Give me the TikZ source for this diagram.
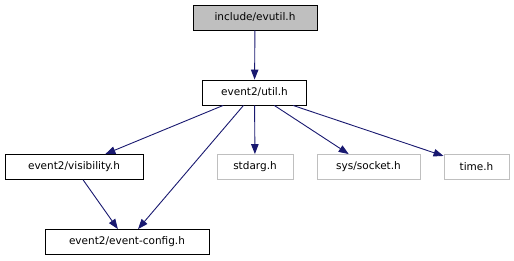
\documentclass[tikz,border=0pt]{standalone}
\usepackage{fontspec}
\setmainfont{DejaVu Sans}
\usetikzlibrary{arrows.meta}
\definecolor{edgeblue}{HTML}{191970}
\definecolor{missgray}{HTML}{BFBFBF}
\tikzset{
  filebox/.style={draw=black, line width=0.9pt, inner sep=0pt, minimum height=25pt, font=\fontsize{10.5}{12}\selectfont, text=black},
  curbox/.style={filebox, fill=missgray},
  missbox/.style={filebox, draw=missgray},
  incl/.style={draw=edgeblue, line width=0.9pt, -{Triangle[length=10pt,width=7.5pt]}, color=edgeblue},
}
\begin{document}
\begin{tikzpicture}[x=1pt,y=-1pt]
\useasboundingbox (0,0) rectangle (514,261);
\node[curbox, minimum width=124pt] (evutil) at (255,17.5) {include/evutil.h};
\node[filebox, minimum width=104pt] (util) at (254.5,92.5) {event2/util.h};
\node[filebox, minimum width=138pt] (vis) at (74,167) {event2/visibility.h};
\node[missbox, minimum width=76pt] (stdarg) at (255,167) {stdarg.h};
\node[missbox, minimum width=103pt] (socket) at (368.5,167) {sys/socket.h};
\node[missbox, minimum width=65pt] (time) at (476.5,167) {time.h};
\node[filebox, minimum width=164pt] (ec) at (127,242) {event2/event-config.h};
\draw[incl] (evutil) -- (util);
\draw[incl] (util) -- (vis);
\draw[incl] (util) -- (ec);
\draw[incl] (util) -- (stdarg);
\draw[incl] (util) -- (socket);
\draw[incl] (util) -- (time);
\draw[incl] (vis) -- (ec);
\end{tikzpicture}
\end{document}
